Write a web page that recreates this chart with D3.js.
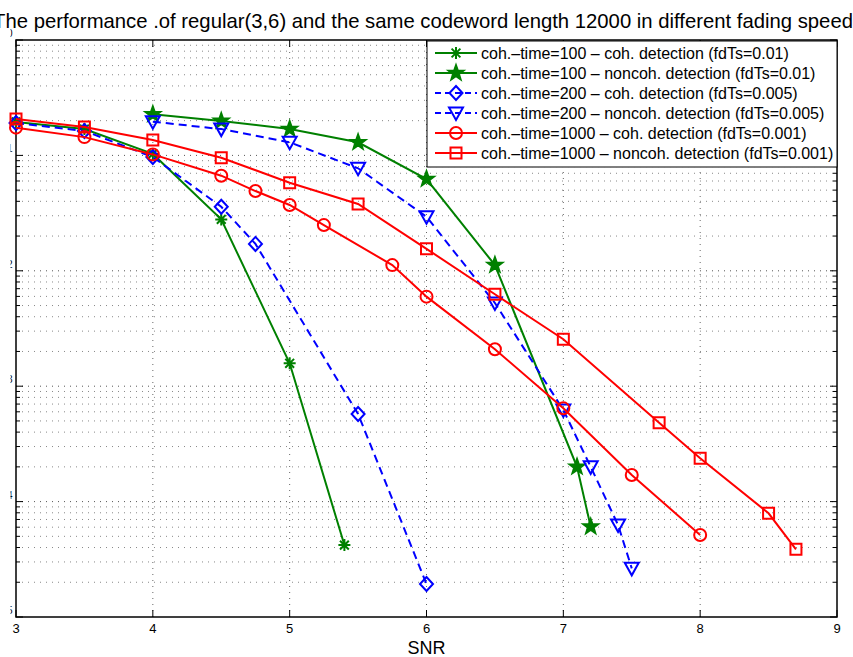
<!DOCTYPE html>
<meta charset="utf-8">
<script src="https://d3js.org/d3.v7.min.js"></script>
<style>
  body { margin: 0; background: #fff; }
  svg { display: block; }
  text { font-family: "Liberation Sans", Arial, sans-serif; fill: #000; }
</style>
<div id="chart"></div>
<script>

// values
var snrCoh100    = [3, 3.5, 4, 4.5, 5, 5.4];
var berCoh100    = [0.195, 0.169, 0.103, 0.0279, 0.00158, 4.2e-5];

var snrNonCoh100 = [4, 4.5, 5, 5.5, 6, 6.5, 7.1, 7.2];
var berNonCoh100 = [0.227, 0.199, 0.169, 0.130, 0.0624, 0.0112, 2.0e-4, 6.06e-5];

var snrCoh200    = [3, 3.5, 4, 4.5, 4.75, 5.5, 6];
var berCoh200    = [0.191, 0.163, 0.0968, 0.0359, 0.0171, 5.74e-4, 1.93e-5];

var snrNonCoh200 = [4, 4.5, 5, 5.5, 6, 6.5, 7, 7.2, 7.4, 7.5];
var berNonCoh200 = [0.196, 0.169, 0.130, 0.0773, 0.0294, 0.00526, 6.22e-4, 2.0e-4, 6.27e-5, 2.64e-5];

var snrCoh1000    = [3, 3.5, 4, 4.5, 4.75, 5, 5.25, 5.75, 6, 6.5, 7, 7.5, 8];
var berCoh1000    = [0.174, 0.144, 0.102, 0.0667, 0.0491, 0.0372, 0.0249, 0.0112, 0.00597, 0.00209, 6.43e-4, 1.70e-4, 5.14e-5];

var snrNonCoh1000 = [3, 3.5, 4, 4.5, 5, 5.5, 6, 6.5, 7, 7.7, 8, 8.5, 8.7];
var berNonCoh1000 = [0.207, 0.176, 0.136, 0.0955, 0.058, 0.0379, 0.0155, 0.00626, 0.00255, 4.83e-4, 2.37e-4, 7.92e-5, 3.86e-5];

var legendLabels = [
  "coh.\u2013time=100 \u2013 coh. detection (fdTs=0.01)",
  "coh.\u2013time=100 \u2013 noncoh. detection (fdTs=0.01)",
  "coh.\u2013time=200 \u2013 coh. detection (fdTs=0.005)",
  "coh.\u2013time=200 \u2013 noncoh. detection (fdTs=0.005)",
  "coh.\u2013time=1000 \u2013 coh. detection (fdTs=0.001)",
  "coh.\u2013time=1000 \u2013 noncoh. detection (fdTs=0.001)"
];

var xTicks = [3, 4, 5, 6, 7, 8, 9];
var yDecades = [-5, -4, -3, -2, -1, 0];

var series = [
  {x: snrCoh100,     y: berCoh100,     color: "#008000", dash: null,  marker: "asterisk"},
  {x: snrNonCoh100,  y: berNonCoh100,  color: "#008000", dash: null,  marker: "star"},
  {x: snrCoh200,     y: berCoh200,     color: "#0000ff", dash: "8,5", marker: "diamond"},
  {x: snrNonCoh200,  y: berNonCoh200,  color: "#0000ff", dash: "8,5", marker: "triangle"},
  {x: snrCoh1000,    y: berCoh1000,    color: "#ff0000", dash: null,  marker: "circle"},
  {x: snrNonCoh1000, y: berNonCoh1000, color: "#ff0000", dash: null,  marker: "square"}
];

var W = 853, H = 657;
var margin = {top: 40, right: 16, bottom: 40, left: 16},
    width = W - margin.left - margin.right,
    height = H - margin.top - margin.bottom;

var svg = d3.select("#chart").append("svg")
    .attr("width", W)
    .attr("height", H);

var g = svg.append("g")
    .attr("transform", "translate(" + margin.left + "," + margin.top + ")");

var x = d3.scaleLinear().domain([3, 9]).range([0, width]);
var y = d3.scaleLog().domain([1e-5, 1]).range([height, 0]);

// grid
var grid = g.append("g").attr("fill", "none");
xTicks.slice(1, -1).forEach(function(t) {
  grid.append("line")
    .attr("x1", x(t)).attr("x2", x(t))
    .attr("y1", 0).attr("y2", height)
    .attr("stroke", "#666").attr("stroke-dasharray", "1,5");
});
yDecades.forEach(function(k) {
  for (var m = 1; m <= 9; m++) {
    var v = m * Math.pow(10, k);
    if (v >= 1 || v <= 1e-5) continue;
    grid.append("line")
      .attr("x1", 0).attr("x2", width)
      .attr("y1", y(v)).attr("y2", y(v))
      .attr("stroke", m == 1 ? "#555" : "#888")
      .attr("stroke-dasharray", "1,5");
  }
});

// ticks, inside the box on all four sides
var ticks = g.append("g").attr("stroke", "#000").attr("stroke-width", 1);
xTicks.forEach(function(t) {
  ticks.append("line").attr("x1", x(t)).attr("x2", x(t)).attr("y1", height).attr("y2", height - 7);
  ticks.append("line").attr("x1", x(t)).attr("x2", x(t)).attr("y1", 0).attr("y2", 7);
});
yDecades.forEach(function(k) {
  for (var m = 1; m <= 9; m++) {
    var v = m * Math.pow(10, k);
    if (v > 1) continue;
    var len = m == 1 ? 7 : 4;
    ticks.append("line").attr("x1", 0).attr("x2", len).attr("y1", y(v)).attr("y2", y(v));
    ticks.append("line").attr("x1", width).attr("x2", width - len).attr("y1", y(v)).attr("y2", y(v));
  }
});

// x axis labels
g.append("g").selectAll("text")
  .data(xTicks)
  .enter().append("text")
    .attr("x", function(d) { return x(d); })
    .attr("y", height + 16)
    .attr("text-anchor", "middle")
    .style("font-size", "13px")
    .text(function(d) { return d; });

// y axis labels, the picture is cut so only a sliver of each one shows
svg.append("clipPath").attr("id", "ylab")
  .append("rect").attr("x", 10.5).attr("y", 0).attr("width", 20).attr("height", H);
var ylab = svg.append("g").attr("clip-path", "url(#ylab)");
yDecades.forEach(function(k) {
  var t = ylab.append("text")
    .attr("x", 12.5)
    .attr("y", margin.top + y(Math.pow(10, k)) + 4)
    .attr("text-anchor", "end")
    .style("font-size", "13px");
  t.append("tspan").text("10");
  t.append("tspan").attr("dy", -7).style("font-size", "10px").text(k == 0 ? "0" : "\u2212" + (-k));
});

// box
g.append("rect")
  .attr("width", width).attr("height", height)
  .attr("fill", "none").attr("stroke", "#000").attr("stroke-width", 1.5);

// markers
function drawMarker(sel, type, color) {
  var p = sel.append("path")
    .attr("fill", "none")
    .attr("stroke", color)
    .attr("stroke-width", 2);
  var d = "";
  if (type == "circle") {
    d = "M6,0A6,6 0 1,1 -6,0A6,6 0 1,1 6,0Z";
  } else if (type == "square") {
    d = "M-5.5,-5.5H5.5V5.5H-5.5Z";
  } else if (type == "diamond") {
    d = "M0,-7L6.5,0L0,7L-6.5,0Z";
  } else if (type == "triangle") {
    d = "M-7,-5.5H7L0,7Z";
  } else if (type == "asterisk") {
    d = "M-6,0H6M0,-6V6M-4.4,-4.4L4.4,4.4M-4.4,4.4L4.4,-4.4";
    p.attr("stroke-width", 2);
  } else if (type == "star") {
    for (var i = 0; i < 10; i++) {
      var r = i % 2 == 0 ? 8.5 : 3.4;
      var a = -Math.PI / 2 + i * Math.PI / 5;
      d += (i == 0 ? "M" : "L") + (r * Math.cos(a)).toFixed(2) + "," + (r * Math.sin(a)).toFixed(2);
    }
    d += "Z";
    p.attr("stroke-width", 1.5).attr("fill", color);
  }
  p.attr("d", d);
}

var line = d3.line()
  .x(function(d) { return x(d[0]); })
  .y(function(d) { return y(d[1]); });

series.forEach(function(s) {
  var pts = s.x.map(function(v, i) { return [v, s.y[i]]; });
  g.append("path")
    .datum(pts)
    .attr("fill", "none")
    .attr("stroke", s.color)
    .attr("stroke-width", 2)
    .attr("stroke-dasharray", s.dash)
    .attr("d", line);
  pts.forEach(function(p) {
    var m = g.append("g").attr("transform", "translate(" + x(p[0]) + "," + y(p[1]) + ")");
    drawMarker(m, s.marker, s.color);
  });
});

// legend
var legend = svg.append("g").attr("transform", "translate(427,41)");
legend.append("rect")
  .attr("width", 410).attr("height", 126)
  .attr("fill", "#fff").attr("stroke", "#000").attr("stroke-width", 1);
series.forEach(function(s, i) {
  var row = legend.append("g").attr("transform", "translate(0," + (12 + i * 20) + ")");
  row.append("line")
    .attr("x1", 8).attr("x2", 50)
    .attr("stroke", s.color).attr("stroke-width", 2)
    .attr("stroke-dasharray", s.dash ? "6,4" : null);
  var m = row.append("g").attr("transform", "translate(29,0)");
  drawMarker(m, s.marker, s.color);
  row.append("text")
    .attr("x", 54).attr("y", 5.5)
    .style("font-size", "16px")
    .text(legendLabels[i]);
});

// title and x label
svg.append("text")
  .attr("x", 423)
  .attr("y", 28)
  .attr("text-anchor", "middle")
  .style("font-size", "20.3px")
  .text("The performance .of regular(3,6) and the same codeword length 12000 in different fading speed");

svg.append("text")
  .attr("x", margin.left + width / 2)
  .attr("y", 654)
  .attr("text-anchor", "middle")
  .style("font-size", "18px")
  .text("SNR");

</script>
